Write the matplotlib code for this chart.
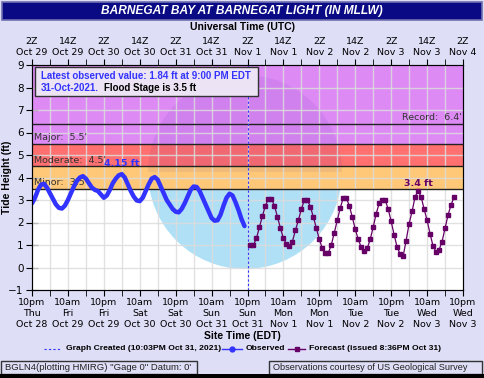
import matplotlib.pyplot as plt
from matplotlib.patches import Rectangle, Wedge

# hours after 10pm EDT Thu Oct 28
obs_hours = list(range(0, 72))
obs_ft = [2.85, 3.1, 3.45, 3.68, 3.72, 3.55, 3.3, 3.05, 2.8, 2.65, 2.62, 2.75,
          3.0, 3.3, 3.6, 3.85, 4.0, 4.06, 3.95, 3.75, 3.55, 3.45, 3.4, 3.25,
          3.1, 3.2, 3.45, 3.75, 3.95, 4.1, 4.15, 4.0, 3.7, 3.4, 3.15, 2.98,
          2.95, 3.1, 3.4, 3.7, 3.95, 4.02, 3.9, 3.6, 3.3, 3.0, 2.8, 2.6,
          2.48, 2.45, 2.6, 2.85, 3.15, 3.45, 3.6, 3.58, 3.4, 3.1, 2.8, 2.5,
          2.2, 2.08, 2.1, 2.35, 2.75, 3.1, 3.28, 3.2, 2.9, 2.55, 2.15, 1.84]

fcst_hours = list(range(73, 142))
fcst_ft = [1.0, 1.0, 1.3, 1.8, 2.3, 2.75, 3.05, 3.05, 2.75, 2.25, 1.75, 1.3,
           1.05, 0.95, 1.15, 1.65, 2.1, 2.6, 3.0, 3.0, 2.7, 2.25, 1.75, 1.25,
           0.85, 0.65, 0.65, 1.0, 1.55, 2.1, 2.65, 3.1, 3.1, 2.75, 2.25, 1.7,
           1.25, 0.9, 0.75, 0.85, 1.25, 1.8, 2.4, 2.85, 3.0, 3.0, 2.6, 2.05,
           1.45, 0.9, 0.6, 0.5, 1.2, 1.95, 2.5, 3.15, 3.4, 3.15, 2.6, 2.1,
           1.5, 0.95, 0.7, 0.78, 1.15, 1.74, 2.33, 2.78, 3.12]

stage_names = ['Minor', 'Moderate', 'Major']
stage_ft = [3.5, 4.5, 5.5]
stage_colors = ['#FFC878', '#FF7070', '#DD8AF5']
record_ft = 6.4
created_hour = 72.05

tick_hours = list(range(0, 145, 12))
bottom_labels = ['10pm\nThu\nOct 28', '10am\nFri\nOct 29', '10pm\nFri\nOct 29',
                 '10am\nSat\nOct 30', '10pm\nSat\nOct 30', '10am\nSun\nOct 31',
                 '10pm\nSun\nOct 31', '10am\nMon\nNov 1', '10pm\nMon\nNov 1',
                 '10am\nTue\nNov 2', '10pm\nTue\nNov 2', '10am\nWed\nNov 3',
                 '10pm\nWed\nNov 3']
top_labels = ['2Z\nOct 29', '14Z\nOct 29', '2Z\nOct 30', '14Z\nOct 30',
              '2Z\nOct 31', '14Z\nOct 31', '2Z\nNov 1', '14Z\nNov 1',
              '2Z\nNov 2', '14Z\nNov 2', '2Z\nNov 3', '14Z\nNov 3', '2Z\nNov 4']

W, H = 484, 378
BG = '#DEDEF7'
BLUE = '#3333FF'
PURPLE = '#660066'
SANS = 'Liberation Sans'


def fx(x):
    return x / W


def fy(y):
    return 1 - y / H


fig = plt.figure(figsize=(W / 100, H / 100), dpi=100, facecolor=BG)
ax = fig.add_axes([fx(32), fy(290), (463 - 32) / W, (290 - 65) / H])
ax.set_xlim(0, 144)
ax.set_ylim(-1, 9)
ax.set_facecolor('white')

# flood bands
tops = stage_ft[1:] + [9]
for lo, hi, c in zip(stage_ft, tops, stage_colors):
    ax.axhspan(lo, hi, color=c, zorder=1, lw=0)

# faint seal watermark
seal_c = (2.45, (H - 172) / 100)
ax.add_patch(Wedge(seal_c, 0.97, 180, 360, transform=fig.dpi_scale_trans,
                   facecolor='#B0E0F6', edgecolor='none', zorder=0.5))
ax.add_patch(Wedge(seal_c, 0.97, 0, 180, transform=fig.dpi_scale_trans,
                   facecolor='#301090', alpha=0.07, edgecolor='none', zorder=1.5))

# grid
for h in range(6, 144, 6):
    ax.axvline(h, color='#DCDCDC', lw=1, zorder=1.6, alpha=0.85)
for v in range(0, 9):
    ax.axhline(v, color='#DCDCDC', lw=1, zorder=1.6, alpha=0.85)

for v in stage_ft + [record_ft]:
    ax.axhline(v, color='#222222', lw=1, zorder=2)

for name, v in zip(stage_names, stage_ft):
    ax.text(0.8, v + 0.07, f"{name}:  {v}'", fontsize=6.8, color='#333333',
            va='bottom', ha='left', zorder=3)
ax.text(143.5, record_ft + 0.07, f"Record:  {record_ft}'", fontsize=6.8,
        color='#333333', va='bottom', ha='right', zorder=3)

ax.axvline(created_hour, color=BLUE, lw=0.8, ls=(0, (2, 2)), zorder=3)

ax.plot(obs_hours, obs_ft, color=BLUE, lw=3.2, solid_capstyle='round',
        solid_joinstyle='round', zorder=4)
ax.plot(fcst_hours, fcst_ft, color=PURPLE, lw=0.9, marker='s', ms=3.3,
        zorder=4)

pk_o = obs_ft.index(max(obs_ft))
ax.text(obs_hours[pk_o], max(obs_ft) + 0.25, f'{max(obs_ft)} ft', color=BLUE,
        fontsize=6.8, fontweight='bold', ha='center', va='bottom', zorder=5)
pk_f = fcst_ft.index(max(fcst_ft))
ax.text(fcst_hours[pk_f], max(fcst_ft) + 0.12, f'{max(fcst_ft)} ft', color=PURPLE,
        fontsize=6.8, fontweight='bold', ha='center', va='bottom', zorder=5)

ax.set_xticks(tick_hours)
ax.set_xticklabels(bottom_labels, fontsize=6.8, linespacing=1.25)
ax.set_xticks(range(6, 144, 12), minor=True)
ax.set_yticks(range(-1, 10))
ax.tick_params(axis='y', direction='inout', length=8, labelsize=7.5, pad=2)
ax.tick_params(axis='x', which='both', direction='out', length=4, pad=2)
for s in ax.spines.values():
    s.set_color('#222222')
ax.set_ylabel('Tide Height (ft)', fontsize=7.5, fontweight='bold', family=SANS)
ax.yaxis.set_label_coords(-0.046, 0.5)

top = ax.twiny()
top.set_xlim(0, 144)
top.set_xticks(tick_hours)
top.set_xticklabels(top_labels, fontsize=6.8, linespacing=1.25)
top.set_xticks(range(6, 144, 12), minor=True)
top.tick_params(axis='x', which='both', direction='out', length=4, pad=2)

# info box
fig.patches.append(Rectangle((fx(35), fy(96)), (258 - 35) / W, 29 / H,
                             transform=fig.transFigure, facecolor='#ECE4F4',
                             edgecolor='#333333', lw=1, zorder=6))
fig.text(fx(41), fy(76), 'Latest observed value: 1.84 ft at 9:00 PM EDT',
         color=BLUE, fontsize=7, fontweight='bold', family=SANS,
         va='center', zorder=7)
fig.text(fx(41), fy(88), '31-Oct-2021.', color=BLUE, fontsize=7,
         fontweight='bold', family=SANS, va='center', zorder=7)
fig.text(fx(104), fy(88), 'Flood Stage is 3.5 ft', color='black', fontsize=7,
         fontweight='bold', family=SANS, va='center', zorder=7)

# title bar
fig.patches.append(Rectangle((fx(2), fy(20)), 480 / W, 18 / H,
                             transform=fig.transFigure, facecolor='#0A0A84',
                             edgecolor='#7070B0', lw=1.2))
fig.text(0.5, fy(11), 'BARNEGAT BAY AT BARNEGAT LIGHT (IN MLLW)', color='white',
         fontsize=8.6, fontweight='bold', style='italic', family=SANS,
         ha='center', va='center')
fig.text(0.5, fy(27), 'Universal Time (UTC)', fontsize=7.5, fontweight='bold',
         family=SANS, ha='center', va='center')
fig.text(0.5, fy(336), 'Site Time (EDT)', fontsize=7.5, fontweight='bold',
         family=SANS, ha='center', va='center')

# legend row
ly = fy(349)
fig.add_artist(plt.Line2D([fx(44), fx(61)], [ly, ly], color=BLUE, lw=0.8,
                          ls=(0, (2, 2))))
fig.text(fx(66), ly, 'Graph Created (10:03PM Oct 31, 2021)', fontsize=6.1,
         fontweight='bold', family=SANS, va='center')
fig.add_artist(plt.Line2D([fx(222), fx(242)], [ly, ly], color=BLUE, lw=1))
fig.add_artist(plt.Line2D([fx(232)], [ly], color=BLUE, marker='o', ms=3.5))
fig.text(fx(246), ly, 'Observed', fontsize=6.1, fontweight='bold',
         family=SANS, va='center')
fig.add_artist(plt.Line2D([fx(288), fx(305)], [ly, ly], color=PURPLE, lw=1))
fig.add_artist(plt.Line2D([fx(296.5)], [ly], color=PURPLE, marker='s', ms=3))
fig.text(fx(309), ly, 'Forecast (issued 8:36PM Oct 31)', fontsize=6.1,
         fontweight='bold', family=SANS, va='center')

# footer boxes
for x0, x1, fs, txt in [(1, 197, 6.8, 'BGLN4(plotting HMIRG) "Gage 0" Datum: 0\''),
                        (269, 482, 6.6, 'Observations courtesy of US Geological Survey')]:
    fig.patches.append(Rectangle((fx(x0), fy(374)), (x1 - x0) / W, 13 / H,
                                 transform=fig.transFigure, facecolor=BG,
                                 edgecolor='#333333', lw=1))
    fig.text(fx(x0 + 4), fy(367.5), txt, fontsize=fs, family=SANS,
             va='center', color='#222222')
fig.patches.append(Rectangle((0, 0), 1, 4 / H, transform=fig.transFigure,
                             facecolor='black', edgecolor='none'))

fig.savefig('out.png', dpi=100, facecolor=BG)
